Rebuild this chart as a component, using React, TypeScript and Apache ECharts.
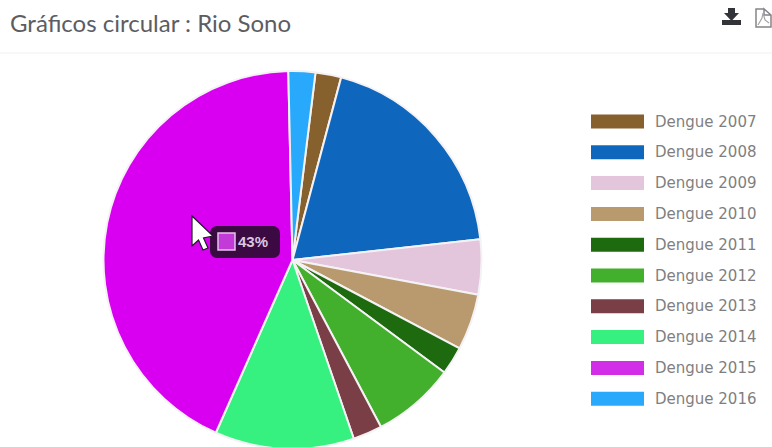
import React, { useEffect, useRef } from "react";
import * as echarts from "echarts";

const years = ["Dengue 2007", "Dengue 2008", "Dengue 2009", "Dengue 2010", "Dengue 2011", "Dengue 2012", "Dengue 2013", "Dengue 2014", "Dengue 2015", "Dengue 2016"];
const shares = [2.2, 19.1, 4.7, 4.8, 2.4, 7.1, 2.5, 11.9, 43, 2.3];
const sliceColors = ["#86612d", "#0f67bd", "#e3c5dc", "#b89a6e", "#1d6b0e", "#42b02c", "#7a3e46", "#36f07f", "#d900f2", "#29a9fb"];
const legendColors = ["#86612d", "#0f67bd", "#e3c5dc", "#b89a6e", "#1d6b0e", "#42b02c", "#7a3e46", "#36f07f", "#d22ee8", "#29a9fb"];
const titleText = "Gráficos circular : Rio Sono";
const hoveredIndex = 8;

export default function App() {
  const ref = useRef<HTMLDivElement>(null);

  useEffect(() => {
    document.body.style.margin = "0";
    const chart = echarts.init(ref.current!, undefined, { renderer: "svg" });
    chart.setOption({
      animation: false,
      backgroundColor: "#ffffff",
      title: {
        text: titleText,
        left: 10,
        top: 10,
        padding: 0,
        textStyle: { fontFamily: "Lato", fontSize: 24, fontWeight: "normal", color: "#5c5d63" },
      },
      legend: {
        orient: "vertical",
        left: 591,
        top: 114,
        padding: 0,
        itemWidth: 53,
        itemHeight: 14,
        itemGap: 15.8,
        icon: "rect",
        selectedMode: false,
        itemStyle: { borderWidth: 0 },
        textStyle: { fontFamily: "DejaVu Sans", fontSize: 15, lineHeight: 14, color: "#7f7f7f", padding: [0, 0, 0, 6] },
        data: years.map((name, i) => ({ name, itemStyle: { color: legendColors[i], borderWidth: 0 } })),
      },
      series: [
        {
          type: "pie",
          silent: true,
          center: [292.5, 260],
          radius: [0, 189],
          startAngle: 83,
          clockwise: true,
          label: { show: false },
          labelLine: { show: false },
          itemStyle: { borderColor: "#f4f2f4", borderWidth: 2 },
          data: years.map((name, i) => ({ name, value: shares[i], itemStyle: { color: sliceColors[i] } })),
        },
      ],
      graphic: [
        // header divider
        { type: "line", z: 5, shape: { x1: 0, y1: 53, x2: 772, y2: 53 }, style: { stroke: "#f1f1f1", lineWidth: 1 } },
        // download icon
        { type: "rect", z: 5, shape: { x: 722, y: 20, width: 19, height: 5 }, style: { fill: "#33333a" } },
        { type: "polygon", z: 5, shape: { points: [[728, 8], [735, 8], [735, 13], [739, 13], [731.5, 21], [724, 13], [728, 13]] }, style: { fill: "#33333a" } },
        // pdf icon
        { type: "polyline", z: 5, shape: { points: [[764, 9], [756, 9], [756, 27], [771, 27], [771, 15], [764, 9], [764, 15], [771, 15]] }, style: { stroke: "#85858a", lineWidth: 1.5, fill: "none" } },
        { type: "polyline", z: 5, shape: { points: [[758, 25], [762, 18], [763, 13], [765, 20], [769, 23]] }, style: { stroke: "#a5a5a9", lineWidth: 1.2, fill: "none" } },
        // hover tooltip on the 2015 slice
        { type: "rect", z: 10, shape: { x: 210, y: 226, width: 70, height: 32, r: 7 }, style: { fill: "#3b0a43" } },
        { type: "rect", z: 11, shape: { x: 218, y: 233, width: 17, height: 17 }, style: { fill: "#c23ad8", stroke: "#e3c3ea", lineWidth: 1.5 } },
        {
          type: "text",
          z: 11,
          x: 238,
          y: 241,
          style: { text: `${shares[hoveredIndex]}%`, fontFamily: "Liberation Sans", fontSize: 15, fontWeight: "bold", fill: "#dcc6e0", verticalAlign: "middle" },
        },
        // mouse pointer
        {
          type: "polygon",
          z: 12,
          shape: { points: [[192, 216], [192, 246], [198.5, 240], [203, 250], [208, 248], [203.5, 238], [213, 236]] },
          style: { fill: "#ffffff", stroke: "#1c1c24", lineWidth: 1.2 },
        },
      ],
    });
    return () => chart.dispose();
  }, []);

  return <div ref={ref} style={{ width: 772, height: 447 }} />;
}
